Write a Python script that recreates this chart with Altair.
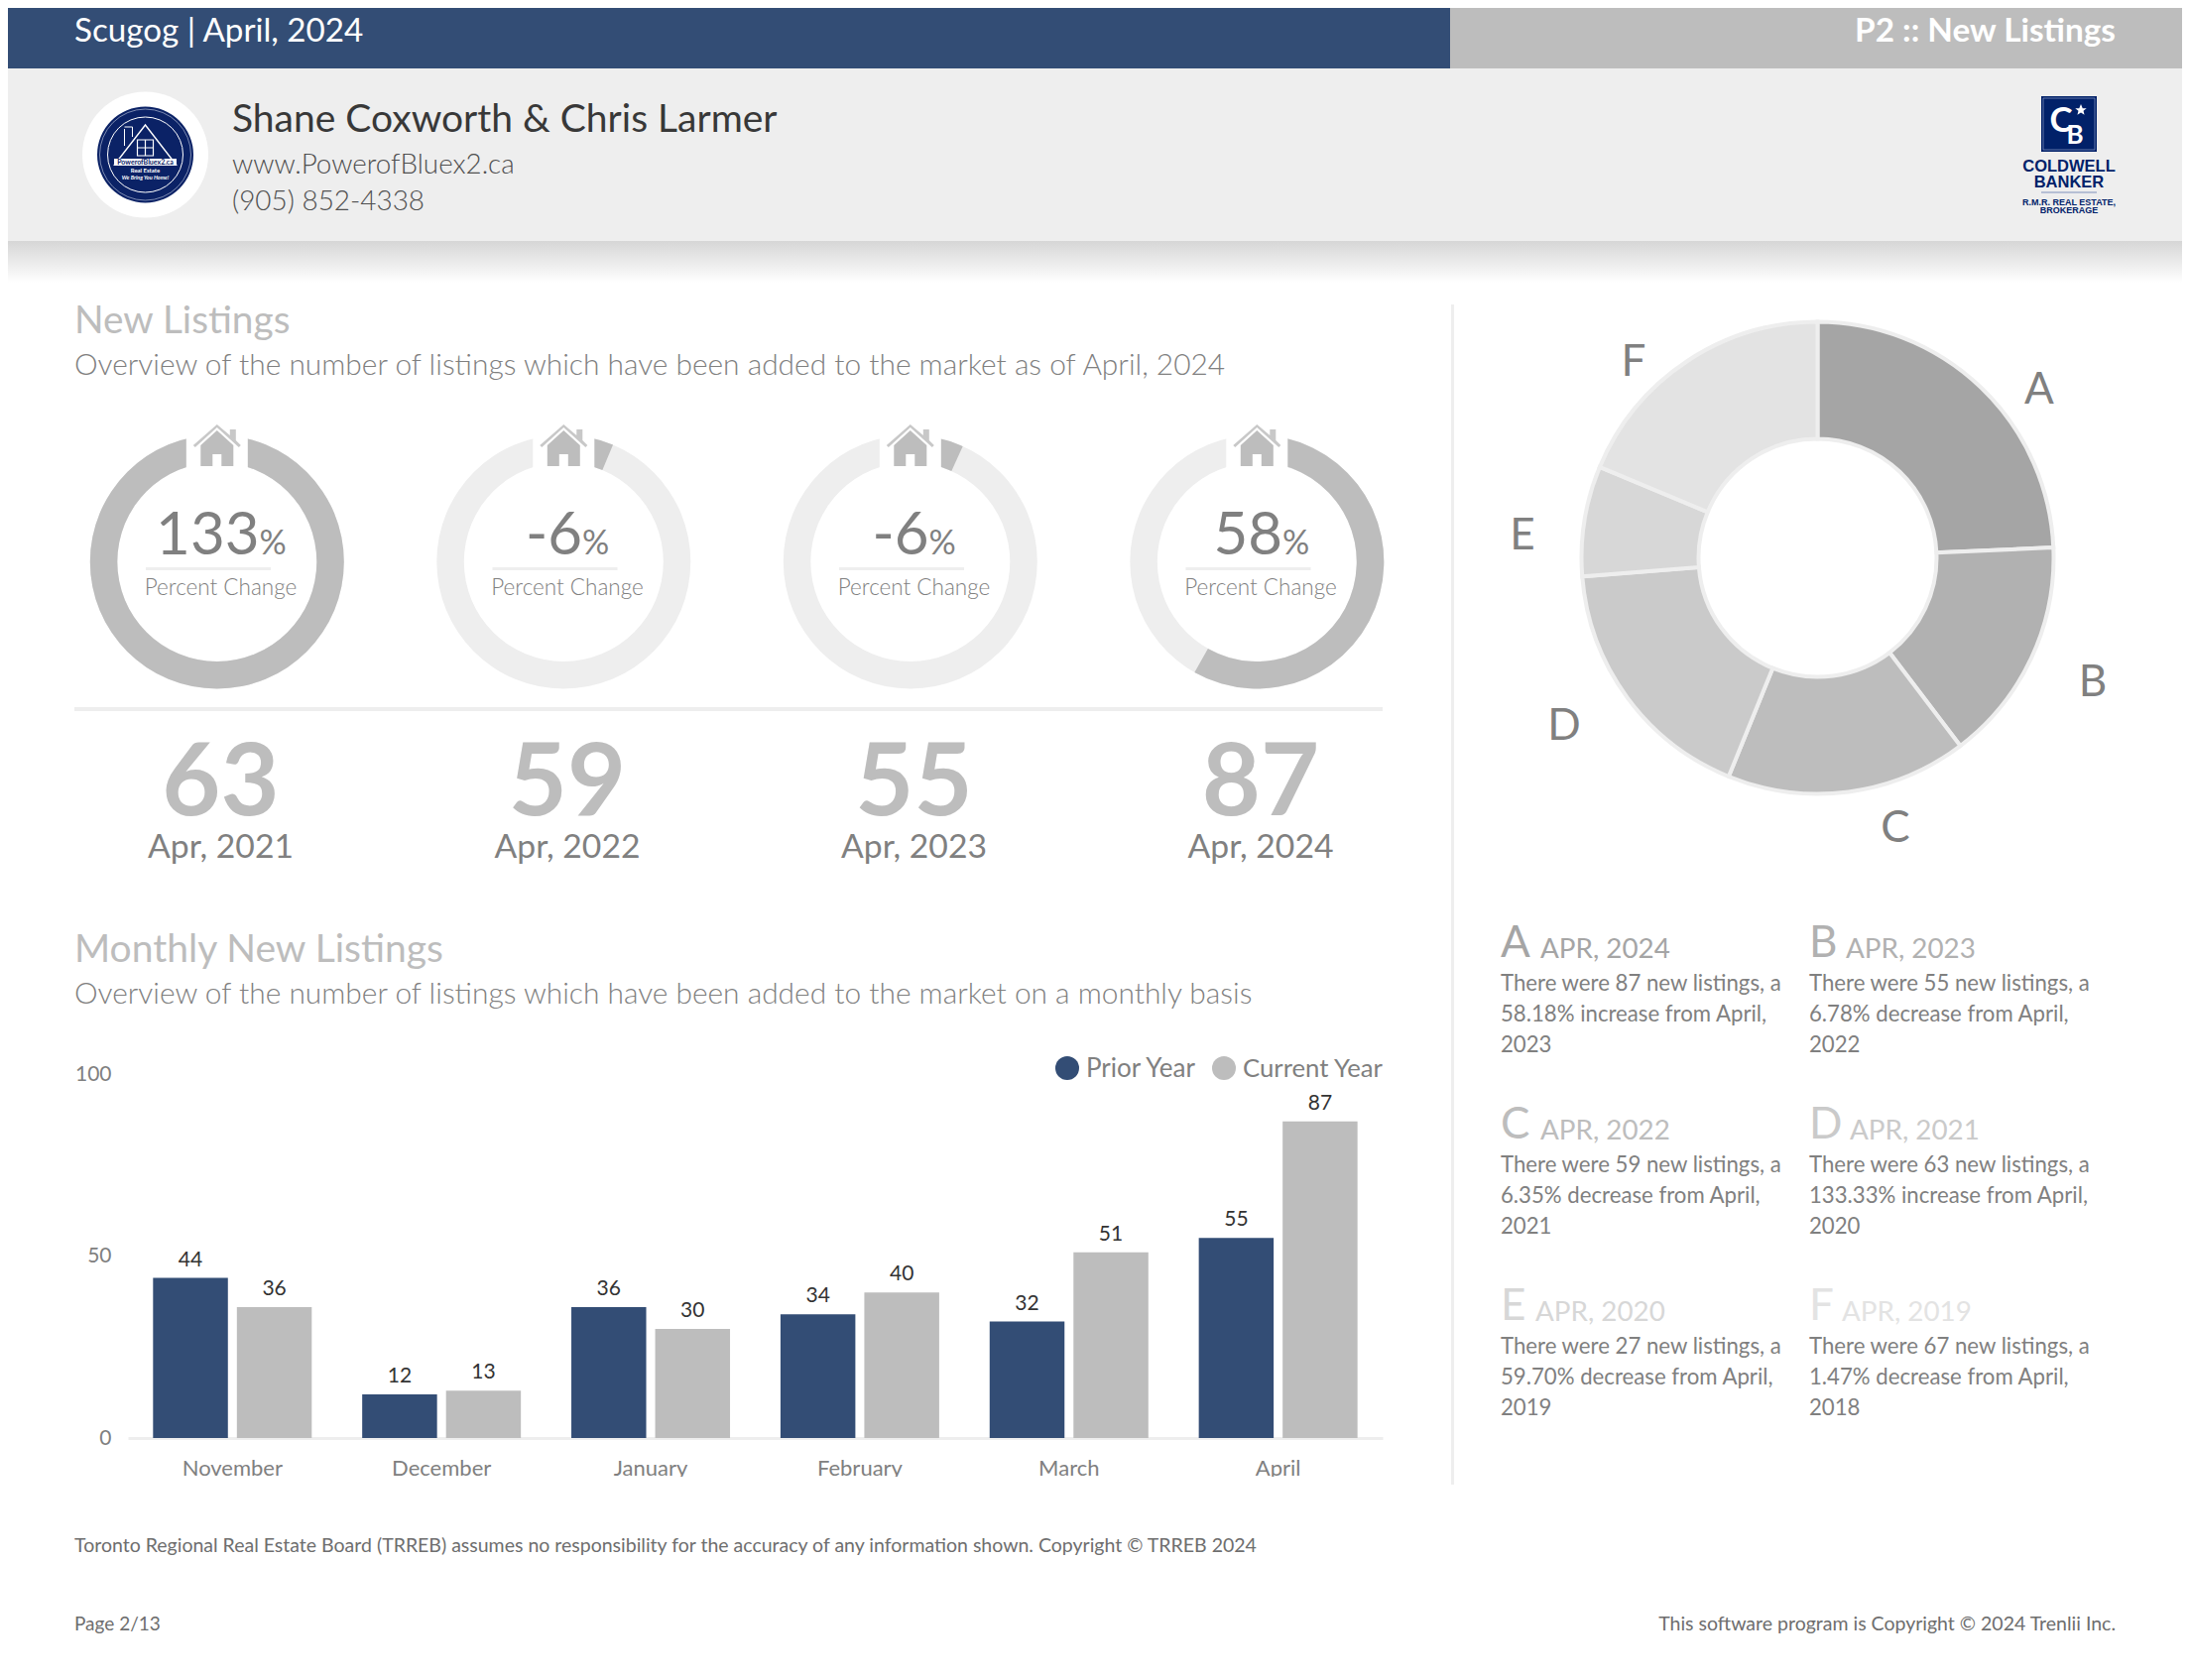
import altair as alt
import pandas as pd

# ---------- data ----------
months = ["November", "December", "January", "February", "March", "April"]
prior_year = [44, 12, 36, 34, 32, 55]
current_year = [36, 13, 30, 40, 51, 87]
series_names = ["Prior Year", "Current Year"]

ring_changes = [133.33, 6.35, 6.78, 58.18]
ring_labels = ["133", "-6", "-6", "58"]
ring_counts = ["63", "59", "55", "87"]
ring_periods = ["Apr, 2021", "Apr, 2022", "Apr, 2023", "Apr, 2024"]

pie_letters = ["A", "B", "C", "D", "E", "F"]
pie_values = [87, 55, 59, 63, 27, 67]
pie_periods = ["APR, 2024", "APR, 2023", "APR, 2022", "APR, 2021", "APR, 2020", "APR, 2019"]
pie_lines = [
    ["There were 87 new listings, a", "58.18% increase from April,", "2023"],
    ["There were 55 new listings, a", "6.78% decrease from April,", "2022"],
    ["There were 59 new listings, a", "6.35% decrease from April,", "2021"],
    ["There were 63 new listings, a", "133.33% increase from April,", "2020"],
    ["There were 27 new listings, a", "59.70% decrease from April,", "2019"],
    ["There were 67 new listings, a", "1.47% decrease from April,", "2018"],
]

# ---------- styles ----------
NAVY = "#334d75"
GREY = "#bdbdbd"
PALE = "#eeeeee"
MID = "#808080"
PIE_COLORS = ["#a5a5a5", "#b1b1b1", "#bdbdbd", "#cacaca", "#d7d7d7", "#e3e3e3"]
LOGO = "#0b2266"
FONT = "Lato"
OFF = 8
layers = []
one = pd.DataFrame({"k": [0]})


def T(s, x, y, size, color=MID, weight=400, align="left", font=FONT, style="normal"):
    layers.append(
        alt.Chart(pd.DataFrame({"t": [s]}))
        .mark_text(fontSize=size, color=color, fontWeight=weight, align=align,
                   baseline="alphabetic", font=font, fontStyle=style)
        .encode(x=alt.value(x - OFF), y=alt.value(y - OFF), text="t:N")
    )


def R(x0, y0, x1, y1, color, stroke=None, sw=1):
    kw = {"stroke": stroke, "strokeWidth": sw} if stroke else {}
    layers.append(
        alt.Chart(one).mark_rect(color=color, **kw).encode(
            x=alt.value(x0 - OFF), x2=alt.value(x1 - OFF),
            y=alt.value(y0 - OFF), y2=alt.value(y1 - OFF))
    )


def D(x, y, d, fill=None, stroke=None, sw=1):
    kw = dict(shape="circle", size=d * d, opacity=1)
    if fill:
        kw.update(filled=True, fill=fill, strokeWidth=0)
    else:
        kw.update(filled=False, stroke=stroke, strokeWidth=sw, fillOpacity=0)
    layers.append(alt.Chart(one).mark_point(**kw).encode(x=alt.value(x - OFF), y=alt.value(y - OFF)))


def S(path, x, y, fill=None, stroke=None, sw=1):
    kw = dict(shape=path, size=4, opacity=1)
    if fill:
        kw.update(filled=True, fill=fill, strokeWidth=0)
    else:
        kw.update(filled=False, stroke=stroke, strokeWidth=sw, fillOpacity=0)
    layers.append(alt.Chart(one).mark_point(**kw).encode(x=alt.value(x - OFF), y=alt.value(y - OFF)))


# ---------- header ----------
R(0, 0, 1462, 69, NAVY)
R(1462, 0, 2208, 69, GREY)
R(0, 69, 2208, 243, PALE)
layers.append(
    alt.Chart(one).mark_rect(color=alt.LinearGradient(
        gradient="linear", x1=0, x2=0, y1=0, y2=1,
        stops=[alt.GradientStop(offset=0, color="#d6d6d6"),
               alt.GradientStop(offset=1, color="#ffffff")])).encode(
        x=alt.value(-OFF), x2=alt.value(2200), y=alt.value(243 - OFF), y2=alt.value(285 - OFF))
)
T("Scugog | April, 2024", 75, 42, 33.2, "#ffffff")
T("P2 :: New Listings", 2133, 42, 33.3, "#ffffff", 700, "right")
T("Shane Coxworth & Chris Larmer", 234, 133, 39, "#383838")
T("www.PowerofBluex2.ca", 234, 175, 27.8, "#505050", 300)
T("(905) 852-4338", 234, 212, 27.9, "#505050", 300)

# left logo
D(146.5, 156, 127, fill="#ffffff")
D(146.5, 156, 97, fill=LOGO)
D(146.5, 156, 92, stroke="#c8d0e4", sw=0.6)
D(146.5, 156, 76, stroke="#ffffff", sw=1)
S("M0,-30 L31,10 L-31,10 Z", 146.5, 156, stroke="#ffffff", sw=1.4)
S("M-21,-26 L-21,-9 M-13,-28 L-13,-18 M-21,-28 L-13,-28", 146.5, 156, stroke="#ffffff", sw=1)
S("M-8,-15 H8 V1 H-8 Z M0,-15 V1 M-8,-7 H8", 146.5, 156, stroke="#ffffff", sw=1.2)
R(115, 160, 178, 167, "#ffffff")
T("PowerofBluex2.ca", 146.5, 166, 7, LOGO, 700, "center")
T("Real Estate", 146.5, 174, 6, "#ffffff", 700, "center")
T("We Bring You Home!", 146.5, 181, 5.5, "#ffffff", 700, "center", style="italic")

# right logo
CB = "#012169"
R(2058, 97, 2114, 153, CB)
R(2060, 99, 2112, 151, CB, stroke="#8c9cc4", sw=0.7)
T("C", 2078, 133, 35, "#ffffff", 700, "center")
T("B", 2092, 145, 26, "#ffffff", 700, "center")
layers.append(alt.Chart(one).mark_point(shape="M0,-1 L.29,-.31 L.95,-.31 L.42,.12 L.59,.81 L0,.42 L-.59,.81 L-.42,.12 L-.95,-.31 L-.29,-.31 Z",
                                        size=144, filled=True, fill="#ffffff", opacity=1, strokeWidth=0)
              .encode(x=alt.value(2098 - OFF), y=alt.value(111 - OFF)))
T("COLDWELL", 2086, 173, 16.5, CB, 900, "center", "Liberation Sans")
T("BANKER", 2086, 189, 16.5, CB, 900, "center", "Liberation Sans")
R(2058, 193.5, 2114, 194.5, "#7f90ba")
T("R.M.R. REAL ESTATE,", 2086, 207, 9, CB, 700, "center", "Liberation Sans")
T("BROKERAGE", 2086, 215, 9, CB, 700, "center", "Liberation Sans")

# ---------- section titles ----------
T("New Listings", 75, 336, 38.8, GREY)
T("Overview of the number of listings which have been added to the market as of April, 2024", 75, 378, 29.9, MID, 300)
T("Monthly New Listings", 75, 970, 39, GREY)
T("Overview of the number of listings which have been added to the market on a monthly basis", 75, 1012, 29.9, MID, 300)

# ---------- rings ----------
ring_x = [218, 567.5, 917, 1266.5]
num_right = [43.5, 19.5, 19.5, 26.5]
HOUSE_BODY = "M-16.5,-3 L0,-18 L16.5,-3 V18 H4.5 V6 H-4.5 V18 H-16.5 Z"
HOUSE_ROOF = "M-24,-3 L0,-24 L13,-13 V-19 H19 V-8 L24,-3 L22,-1 L0,-21 L-22,-1 Z"
for cx, val, lab, nr, cnt, per in zip(ring_x, ring_changes, ring_labels, num_right, ring_counts, ring_periods):
    rx = cx + 0.8
    ry = 566.5
    layers.append(alt.Chart(one).mark_arc(radius=128, radius2=100.5, color=PALE).encode(
        x=alt.value(rx - OFF), y=alt.value(ry - OFF), theta=alt.value(0), theta2=alt.value(6.2832)))
    layers.append(alt.Chart(pd.DataFrame({"v": [val]})).mark_arc(radius=128, radius2=100.5, color=GREY).encode(
        x=alt.value(rx - OFF), y=alt.value(ry - OFF),
        theta=alt.Theta("v:Q", scale=alt.Scale(domain=[0, 100], range=[0, 6.2832], clamp=True))))
    R(rx - 31, 430, rx + 31, 474, "#ffffff")
    S(HOUSE_BODY, rx, 452, fill=GREY)
    S(HOUSE_ROOF, rx, 452, fill="#c8c8c8")
    T(lab, cx + nr, 559, 60, MID, 400, "right")
    T("%", cx + nr, 559, 34, MID, 400)
    R(cx - 71, 572, cx + 55, 575, PALE)
    T("Percent Change", cx + 4.5, 600, 22.5, MID, 300, "center")
    T(cnt, cx + 4.5, 822, 102, GREY, 700, "center")
    T(per, cx + 4.5, 865, 33.7, MID, 400, "center")
R(75, 713, 1394, 717, PALE)

# ---------- divider ----------
R(1463, 307, 1466, 1497, PALE)

# ---------- bars ----------
bars_df = pd.DataFrame({
    "month": months * 2,
    "series": [series_names[0]] * 6 + [series_names[1]] * 6,
    "value": prior_year + current_year,
})
x_enc = alt.X("month:N", sort=months, title=None,
              scale=alt.Scale(domain=months, range=[121, 1386], paddingInner=0.241, paddingOuter=0.12),
              axis=alt.Axis(orient="bottom", offset=-236, labelAngle=0, ticks=False, grid=False,
                            domainColor=PALE, domainWidth=3, labelColor=MID, labelFontSize=22,
                            labelFont=FONT, labelPadding=20.5, labelBaseline="top"))
y_enc = alt.Y("value:Q", title=None,
              scale=alt.Scale(domain=[0, 100], range=[1442, 1075]),
              axis=alt.Axis(orient="left", offset=-121, values=[0, 50, 100], domain=False, ticks=False, grid=False,
                            labelColor=MID, labelFontSize=21, labelFont=FONT, labelPadding=17))
off_enc = alt.XOffset("series:N", sort=series_names,
                      scale=alt.Scale(domain=series_names, range=[0, 160], paddingInner=0.107))
layers.append(alt.Chart(bars_df).mark_bar().encode(
    x=x_enc, xOffset=off_enc, y=y_enc,
    color=alt.Color("series:N", scale=alt.Scale(domain=series_names, range=[NAVY, GREY]), legend=None)))
layers.append(alt.Chart(bars_df).mark_text(fontSize=21, font=FONT, color="#333333", baseline="alphabetic", dy=-12).encode(
    x=alt.X("month:N", sort=months), xOffset=alt.XOffset("series:N", sort=series_names), y=alt.Y("value:Q"),
    text="value:Q"))
R(100, 1489, 1420, 1503, "#ffffff")

# legend
D(1076, 1077, 24, fill=NAVY)
T(series_names[0], 1095, 1086, 26, MID)
D(1234, 1077, 24, fill=GREY)
T(series_names[1], 1253, 1086, 25.7, MID)

# ---------- pie ----------
pie_df = pd.DataFrame({"letter": pie_letters, "v": pie_values, "i": list(range(6))})
layers.append(alt.Chart(pie_df).mark_arc(radius=238, radius2=120, stroke=PALE, strokeWidth=4).encode(
    x=alt.value(1832.5 - OFF), y=alt.value(562.5 - OFF),
    theta=alt.Theta("v:Q", stack=True),
    order=alt.Order("i:Q"),
    color=alt.Color("letter:N", scale=alt.Scale(domain=pie_letters, range=PIE_COLORS), legend=None)))
pie_label_xy = [(2056, 407), (2110, 702), (1911, 849), (1577, 746), (1535, 554), (1647, 379)]
for letter, (lx, ly) in zip(pie_letters, pie_label_xy):
    T(letter, lx, ly, 44, MID, 400, "center")

# ---------- notes ----------
note_x = [1513, 1824, 1513, 1824, 1513, 1824]
note_period_x = [1553, 1861, 1553, 1865, 1548, 1857]
note_y = [965, 965, 1148, 1148, 1331, 1331]
for i in range(6):
    T(pie_letters[i], note_x[i], note_y[i], 44, PIE_COLORS[i], 400)
    T(pie_periods[i], note_period_x[i], note_y[i] + 1, 27.8, PIE_COLORS[i], 400)
    for j, dy in enumerate([33.5, 65, 96]):
        T(pie_lines[i][j], note_x[i], note_y[i] + dy, 22.2, MID, 400)

# ---------- footer ----------
T("Toronto Regional Real Estate Board (TRREB) assumes no responsibility for the accuracy of any information shown. Copyright © TRREB 2024",
  75, 1565, 19.5, "#6e6e6e")
T("Page 2/13", 75, 1644, 19, "#6e6e6e")
T("This software program is Copyright © 2024 Trenlii Inc.", 2133, 1644, 19.5, "#6e6e6e", 400, "right")

chart = (
    alt.layer(*layers)
    .resolve_scale(color="independent", theta="independent")
    .properties(width=2192, height=1678, padding=0, autosize=alt.AutoSizeParams(type="none"))
    .configure_view(stroke=None)
)
chart.save("out.html", embed_options={"renderer": "svg", "actions": False})
